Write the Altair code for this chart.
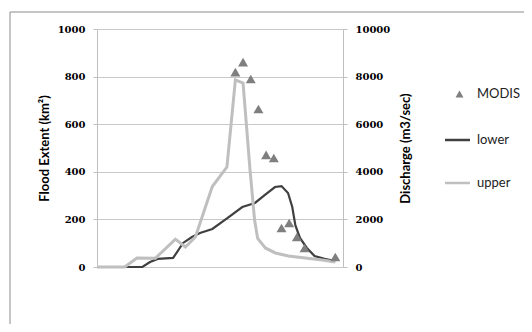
import altair as alt
import pandas as pd

# x positions are category positions along the date axis (0 = left edge)
upper_x = [0, 3.6, 5.2, 7.6, 10.2, 11.5, 12.8, 15.0, 16.9, 18.0, 19.0, 19.9, 20.5, 20.9, 21.9, 23.2, 24.9, 27.1, 29.3, 31.0]
upper_v = [0, 0, 380, 370, 1170, 840, 1260, 3380, 4200, 7860, 7730, 4100, 1970, 1200, 800, 590, 460, 380, 290, 210]

lower_x = [0, 5.9, 6.9, 7.9, 9.9, 11.2, 12.35, 13.4, 15.0, 17.0, 18.9, 20.55, 21.85, 23.15, 24.0, 24.85, 25.4, 25.8, 26.4, 27.3, 28.3, 29.6, 31.0]
lower_v = [0, 0, 210, 340, 380, 1010, 1260, 1430, 1600, 2060, 2520, 2690, 3030, 3360, 3400, 3110, 2520, 1760, 1220, 800, 460, 340, 250]

modis_x = [18, 19, 20, 21, 22, 23, 24, 25, 26, 27, 31]
modis_v = [819, 861, 790, 664, 471, 458, 164, 185, 126, 80, 42]

tick_pos = [4.5, 17.5, 30.5]
tick_labels = ["15/03/2007", "1/04/2007", "15/04/2007"]

lines_df = pd.concat([
    pd.DataFrame({"x": lower_x, "v": lower_v, "series": "lower", "o": range(len(lower_x))}),
    pd.DataFrame({"x": upper_x, "v": upper_v, "series": "upper", "o": range(len(upper_x))}),
])
modis_df = pd.DataFrame({"x": modis_x, "v": modis_v, "s": "MODIS"})

W, H = 246, 238
xscale = alt.Scale(domain=[0, 32], nice=False, zero=False)
label_expr = "[" + ",".join("'%s'" % t for t in tick_labels) + "][indexof([" + ",".join(str(p) for p in tick_pos) + "], datum.value)]"

serif = "DejaVu Serif"
sans = "Lato"

lines = alt.Chart(lines_df).mark_line().encode(
    x=alt.X("x:Q", scale=xscale, axis=None),
    y=alt.Y("v:Q", scale=alt.Scale(domain=[0, 10000], nice=False),
            axis=alt.Axis(orient="right", values=[0, 2000, 4000, 6000, 8000, 10000], format="d",
                          title="Discharge (m3/sec)", grid=False, labelFont=serif,
                          labelFontWeight="bold", labelFontSize=10, labelColor="#000000",
                          labelPadding=8, tickSize=4, tickColor="#bfbfbf",
                          domainColor="#bfbfbf", titleFont=sans, titleFontSize=13,
                          titleFontWeight="bold", titleColor="#000000", titlePadding=10,
                          titleAngle=270, titleBaseline="top")),
    color=alt.Color("series:N", scale=alt.Scale(domain=["lower", "upper"], range=["#404040", "#bfbfbf"]),
                    legend=alt.Legend(title=None, orient="none", legendX=346.5, legendY=97,
                                      symbolType="stroke", symbolSize=625, symbolStrokeWidth=2.5,
                                      labelOffset=5.5, rowPadding=22, labelFont=sans,
                                      labelFontSize=13, labelColor="#222222", padding=0)),
    strokeWidth=alt.StrokeWidth("series:N", scale=alt.Scale(domain=["lower", "upper"], range=[2.2, 3]), legend=None),
    order="o:Q",
)

points = alt.Chart(modis_df).mark_point(filled=True, size=100, opacity=1, color="#7f7f7f").encode(
    x=alt.X("x:Q", scale=xscale,
            axis=alt.Axis(values=tick_pos, labelExpr=label_expr, title="Date (DD/MM/YYYY)",
                          grid=False, ticks=False, domainColor="#bfbfbf", labelFont=sans,
                          labelFontSize=13, labelColor="#222222", labelPadding=10,
                          titleFont=sans, titleFontSize=13, titleFontWeight="bold",
                          titleColor="#000000", titlePadding=10)),
    y=alt.Y("v:Q", scale=alt.Scale(domain=[0, 1000], nice=False),
            axis=alt.Axis(values=[0, 200, 400, 600, 800, 1000], format="d", title="Flood Extent (km²)",
                          grid=True, gridColor="#c8c8c8", labelFont=serif, labelFontWeight="bold",
                          labelFontSize=10, labelColor="#000000", labelPadding=8, tickSize=4,
                          tickColor="#bfbfbf", domainColor="#bfbfbf", titleFont=sans,
                          titleFontSize=13, titleFontWeight="bold", titleColor="#000000",
                          titlePadding=6)),
    shape=alt.Shape("s:N", scale=alt.Scale(domain=["MODIS"], range=["triangle-up"]),
                    legend=alt.Legend(title=None, orient="none", legendX=356, legendY=58.5,
                                      symbolSize=64, symbolFillColor="#7f7f7f",
                                      symbolStrokeColor="#7f7f7f", labelOffset=11,
                                      labelFont=sans, labelFontSize=13, labelColor="#222222",
                                      padding=0)),
)

border_df = pd.DataFrame({"a": [0]})
border_top = alt.Chart(border_df).mark_rule(color="#8c8c8c", strokeWidth=1).encode(
    x=alt.value(-87), x2=alt.value(440), y=alt.value(-17))
border_left = alt.Chart(border_df).mark_rule(color="#8c8c8c", strokeWidth=1).encode(
    x=alt.value(-87), y=alt.value(-17), y2=alt.value(310))

chart = alt.layer(border_top, border_left, lines, points).resolve_scale(
    y="independent", color="independent", shape="independent"
).properties(
    width=W, height=H,
    autosize=alt.AutoSizeParams(type="none"),
    padding={"left": 89, "top": 21, "right": 181, "bottom": 57},
).configure_view(stroke=None)

chart.save("out.html", embed_options={"renderer": "svg", "actions": False})
